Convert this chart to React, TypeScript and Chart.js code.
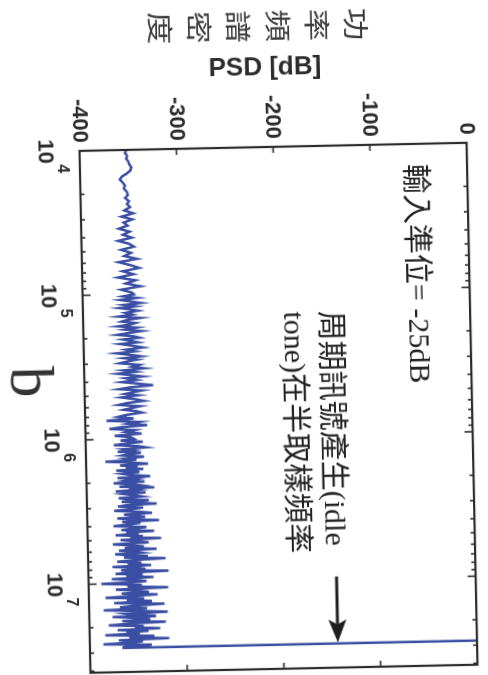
import React, { useEffect, useRef } from "react";
import { Chart, registerables } from "chart.js";

Chart.register(...registerables);

// ---------- data (frequency in kHz, PSD in dB) ----------
const freqA_kHz = [
  10, 10.5, 11, 11.5, 12, 12.6, 13.2, 13.9, 14.6, 15.3,
  16, 16.8, 17.6, 18.5, 19.5, 20.5, 21.5, 22.6, 23.7, 24.9,
  26.2, 27.5, 28.9, 30.3, 31.8, 33.4, 35, 36.8, 38.6, 40.5,
  42.5, 44.6, 46.8, 49.1, 51.6, 54.2, 56.9, 59.7, 62.7, 65.8,
  69.1, 72.6, 76.2, 80, 84, 88.2, 92.6, 97.2,
];
const psdA = [
  -352, -353, -351, -352, -350, -349, -347, -348, -352, -357,
  -359, -356, -354, -355, -352, -351, -354, -350, -352, -349,
  -355, -346, -358, -347, -356, -352, -361, -350, -357, -348,
  -362, -351, -346, -359, -349, -356, -343, -362, -350, -341,
  -358, -347, -363, -345, -355, -340, -360, -349,
];

const freqB_kHz = [
  100, 103, 106, 109, 112, 115, 118, 121, 124, 127,
  130, 134, 138, 142, 146, 150, 154, 158, 162, 166,
  170, 175, 180, 185, 190, 195, 200, 205, 210, 215,
  220, 227, 234, 241, 248, 255, 262, 269, 276, 283,
  290, 299, 308, 317, 326, 335, 344, 353, 362, 371,
  380, 392, 404, 416, 428, 440, 452, 464, 476, 488,
  500, 516, 532, 548, 564, 580, 596, 612, 628, 644,
  660, 681, 702, 723, 744, 765, 786, 807, 828, 849,
  870, 896, 922, 948, 974,
];
const psdB = [
  -347, -358, -344, -361, -350, -340, -357, -346, -362, -351,
  -343, -356, -349, -363, -341, -354, -360, -346, -352, -364,
  -345, -357, -340, -353, -365, -348, -342, -359, -351, -344,
  -362, -349, -339, -356, -347, -366, -352, -341, -358, -345,
  -354, -363, -343, -350, -338, -359, -347, -365, -352, -340,
  -357, -346, -361, -344, -329, -353, -364, -341, -350, -358,
  -345, -362, -348, -339, -356, -365, -343, -352, -360, -347,
  -341, -357, -366, -350, -378, -344, -355, -336, -363, -375,
  -349, -358, -342, -370, -353,
];

const freqC_kHz = [
  1000, 1025, 1050, 1075, 1100, 1125, 1150, 1175, 1200, 1225, 1250, 1275,
  1300, 1332, 1364, 1396, 1428, 1460, 1492, 1524, 1556, 1588, 1620, 1652, 1684,
  1700, 1740, 1780, 1820, 1860, 1900, 1940, 1980, 2020, 2060, 2100, 2140, 2180,
  2200, 2252, 2304, 2356, 2408, 2460, 2512, 2564, 2616, 2668, 2720, 2772, 2824, 2876,
  2930, 2998, 3066, 3134, 3202, 3270, 3338, 3406, 3474, 3542, 3610, 3678, 3746,
  3820, 3910, 4000, 4090, 4180, 4270, 4360, 4450, 4540, 4630, 4720, 4810, 4900,
  5000, 5115, 5230, 5345, 5460, 5575, 5690, 5805, 5920, 6035, 6150, 6265, 6380, 6495,
  6610, 6760, 6910, 7060, 7210, 7360, 7510, 7660, 7810, 7960, 8110, 8260, 8410, 8560,
  8710, 8905, 9100, 9295, 9490, 9685, 9880,
];
const psdC = [
  -350, -364, -341, -357, -371, -346, -338, -360, -352, -367, -343, -355,
  -362, -340, -358, -348, -380, -353, -336, -365, -347, -359, -341, -369, -351,
  -345, -363, -354, -334, -368, -349, -358, -340, -372, -352, -344, -366, -330,
  -356, -347, -370, -339, -361, -351, -343, -367, -357, -336, -364, -348, -328, -359,
  -368, -342, -355, -372, -346, -333, -362, -350, -340, -369, -353, -326, -364,
  -345, -358, -373, -339, -352, -365, -331, -360, -347, -371, -343, -356, -324,
  -366, -349, -337, -374, -355, -342, -362, -329, -368, -351, -344, -372, -357, -338,
  -363, -320, -353, -370, -345, -359, -335, -375, -350, -341, -366, -317, -356, -372,
  -344, -361, -333, -376, -352, -340, -368,
];

const freqD_kHz = [
  10000, 10250, 10500, 10750, 11000, 11250, 11500, 11750, 12000, 12250, 12500, 12750,
  13000, 13320, 13640, 13960, 14280, 14600, 14920, 15240, 15560, 15880, 16200, 16520, 16840,
  17000, 17400, 17800, 18200, 18600, 19000, 19400, 19800, 20200, 20600, 21000, 21400, 21800,
  22200, 22700, 23200, 23700, 24200, 24700, 25200, 25700, 26200, 26700, 27200, 27600,
];
const psdD = [
  -387, -345, -360, -318, -372, -350, -338, -366, -329, -355, -383, -343,
  -361, -335, -374, -322, -352, -368, -340, -385, -347, -319, -363, -356, -331,
  -376, -349, -337, -366, -321, -358, -380, -344, -353, -327, -371, -339, -362,
  -348, -384, -333, -359, -318, -370, -345, -356, -386, -336, -352, -365,
];

// idle tone at half the sampling frequency (goes off the top of the plot)
const spikeFreq_kHz = 27900;
const spikePsd = 12;

const psdTicks = [-400, -300, -200, -100, 0];
const decadeExps = [4, 5, 6, 7];
const xMinHz = 1e4;
const xMaxHz = 4.1e7;

const yLabelChars = ["功", "率", "頻", "譜", "密", "度"];
const yTitle = "PSD [dB]";
const panelLabel = "b";
const note1 = "輸入準位= -25dB";
const note2a = "周期訊號產生(idle";
const note2b = "tone)在半取樣頻率";

const LINE_COLOR = "#3a4ea3";
const INK = "#2c2c2c";

const allFreqKHz = [...freqA_kHz, ...freqB_kHz, ...freqC_kHz, ...freqD_kHz, spikeFreq_kHz];
const allPsd = [...psdA, ...psdB, ...psdC, ...psdD, spikePsd];

const decorPlugin = {
  id: "decor",
  afterDatasetsDraw(chart: any) {
    const { ctx, chartArea: a, scales } = chart;
    const xs = scales.x;
    const ys = scales.y;
    const seg = (x1: number, y1: number, x2: number, y2: number) => {
      ctx.beginPath();
      ctx.moveTo(x1, y1);
      ctx.lineTo(x2, y2);
      ctx.stroke();
    };
    ctx.save();
    ctx.strokeStyle = INK;
    ctx.fillStyle = INK;

    // frame
    ctx.lineWidth = 2.2;
    ctx.strokeRect(a.left, a.top, a.right - a.left, a.bottom - a.top);

    // inward ticks, dB axis
    ctx.lineWidth = 1.6;
    for (const v of psdTicks) {
      if (v <= -400 || v >= 0) continue;
      const y = ys.getPixelForValue(v);
      seg(a.left, y, a.left + 6, y);
      seg(a.right - 6, y, a.right, y);
    }
    // inward ticks, frequency axis (log, with minor ticks)
    for (const e of decadeExps) {
      for (let m = 1; m <= 9; m++) {
        const f = m * Math.pow(10, e);
        if (f <= xMinHz || f >= xMaxHz) continue;
        const x = xs.getPixelForValue(f);
        const len = m === 1 ? 8 : 4;
        seg(x, a.bottom, x, a.bottom - len);
        seg(x, a.top, x, a.top + len);
      }
    }

    // decade labels 10^k
    for (const e of decadeExps) {
      const x = xs.getPixelForValue(Math.pow(10, e));
      ctx.font = 'bold 22px "Liberation Sans"';
      ctx.textAlign = "center";
      ctx.textBaseline = "alphabetic";
      ctx.fillText("10", x, a.bottom + 41);
      ctx.font = 'bold 16px "Liberation Sans"';
      ctx.textAlign = "left";
      ctx.fillText(String(e), x + 13, a.bottom + 22);
    }

    // panel label
    ctx.font = '62px "Liberation Serif"';
    ctx.textAlign = "center";
    ctx.textBaseline = "alphabetic";
    ctx.fillStyle = "#333";
    ctx.fillText(panelLabel, a.left + 230, a.bottom + 73);

    // y title (rotated)
    ctx.fillStyle = INK;
    ctx.save();
    ctx.translate(a.left - 72, a.top + 200);
    ctx.rotate(-Math.PI / 2);
    ctx.font = 'bold 26px "Liberation Sans"';
    ctx.textAlign = "center";
    ctx.textBaseline = "alphabetic";
    ctx.fillText(yTitle, 0, 0);
    ctx.restore();

    // stacked Chinese y title
    ctx.fillStyle = "#3a3a3a";
    ctx.font = '26px "Noto Sans CJK TC"';
    ctx.textAlign = "center";
    ctx.textBaseline = "middle";
    yLabelChars.forEach((ch, i) => {
      ctx.save();
      ctx.translate(a.left - 121, a.top + 108 + i * 39.3);
      ctx.scale(1.25, 1);
      ctx.fillText(ch, 0, 0);
      ctx.restore();
    });

    // annotations
    ctx.fillStyle = "#222";
    ctx.font = '30px "Liberation Serif", "Noto Sans CJK TC"';
    ctx.textAlign = "left";
    ctx.textBaseline = "middle";
    ctx.fillText(note1, a.left + 20, a.top + 53);
    ctx.fillText(note2a, a.left + 165, a.top + 141);
    ctx.fillText(note2b, a.left + 165, a.top + 178);

    // arrow pointing at the idle tone
    const tipX = xs.getPixelForValue(spikeFreq_kHz * 1000) - 1;
    const ay = a.top + 139;
    ctx.strokeStyle = "#1e1e1e";
    ctx.fillStyle = "#1e1e1e";
    ctx.lineWidth = 3;
    seg(tipX - 66, ay, tipX - 18, ay);
    ctx.beginPath();
    ctx.moveTo(tipX, ay);
    ctx.lineTo(tipX - 23, ay - 9);
    ctx.lineTo(tipX - 18, ay);
    ctx.lineTo(tipX - 23, ay + 9);
    ctx.closePath();
    ctx.fill();

    ctx.restore();
  },
};

export default function App() {
  const canvasRef = useRef<HTMLCanvasElement | null>(null);

  useEffect(() => {
    const canvas = canvasRef.current;
    if (!canvas) return;
    const points = allFreqKHz.map((f, i) => ({ x: f * 1000, y: allPsd[i] }));
    const chart = new Chart(canvas, {
      type: "line",
      data: {
        datasets: [
          {
            data: points,
            borderColor: LINE_COLOR,
            borderWidth: 2.5,
            pointRadius: 0,
            tension: 0,
            fill: false,
          },
        ],
      },
      options: {
        animation: false,
        responsive: false,
        devicePixelRatio: 1,
        layout: { padding: { top: 10, right: 6, left: 0, bottom: 0 } },
        plugins: {
          legend: { display: false },
          tooltip: { enabled: false },
        },
        scales: {
          x: {
            type: "logarithmic",
            min: xMinHz,
            max: xMaxHz,
            ticks: { display: false },
            grid: { display: false, drawTicks: false },
            border: { display: false },
            afterFit: (s: any) => {
              s.height = 83;
            },
          },
          y: {
            type: "linear",
            min: -400,
            max: 0,
            ticks: {
              stepSize: 100,
              padding: 8,
              color: INK,
              font: { family: "Liberation Sans", size: 22, weight: "bold", lineHeight: 0.9 },
            },
            grid: { display: false, drawTicks: false },
            border: { display: false },
            afterFit: (s: any) => {
              s.width = 147;
            },
          },
        },
      },
      plugins: [decorPlugin],
    } as any);
    return () => chart.destroy();
  }, []);

  return (
    <div
      style={{
        position: "fixed",
        left: 0,
        top: 0,
        width: 488,
        height: 675,
        overflow: "hidden",
        background: "#fff",
      }}
    >
      <canvas
        ref={canvasRef}
        width={675}
        height={488}
        style={{
          position: "absolute",
          left: -93.5,
          top: 93.5,
          width: 675,
          height: 488,
          transform: "rotate(88.8deg)",
        }}
      />
    </div>
  );
}
